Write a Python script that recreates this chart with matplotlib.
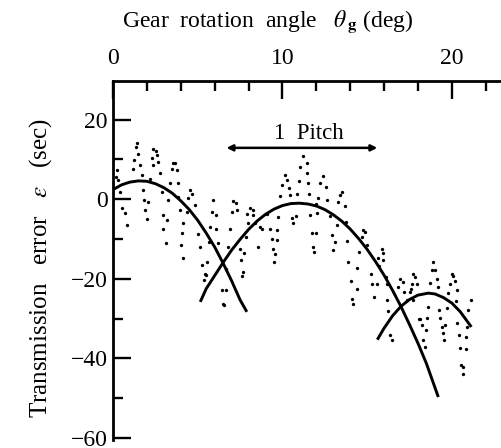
import matplotlib.pyplot as plt

plt.rcParams['font.family'] = ['Liberation Serif', 'DejaVu Serif']
plt.rcParams['mathtext.fontset'] = 'stix'

# measured transmission error (dots), gear angle in deg / error in sec
meas_x = [1.40, 1.34, 1.49, 1.24, 1.16, 1.59, 0.25, 0.18, 0.31, 0.41, 0.51, 0.71, 0.81,
          1.69, 1.75, 1.83, 2.08, 1.89, 1.99, 2.38, 2.54, 2.58, 2.28, 2.67, 2.38, 2.77,
          2.18, 2.87, 2.93, 2.97, 3.17, 3.13, 3.56, 3.65, 3.46, 3.76, 3.36, 3.85, 3.85,
          3.26, 3.95, 4.15, 4.05, 3.99, 4.11, 4.54, 4.64, 4.44, 4.84, 4.35, 5.03, 5.13,
          5.23, 5.53, 5.43, 5.92, 5.82, 6.08, 5.72, 6.08, 5.68,
          7.10, 7.25, 7.00, 7.33, 6.90, 6.80, 7.49, 7.53, 7.65, 7.59, 8.08, 8.24, 7.89,
          8.28, 7.98, 8.38, 8.67, 8.77, 7.85, 8.57, 9.26, 9.66, 9.36, 9.66, 9.46, 9.56,
          9.50, 9.75, 9.07, 11.23, 11.43, 11.03, 11.46, 10.99, 11.52, 10.15, 10.25, 9.95,
          10.40, 9.85, 10.44, 10.87, 11.58, 10.54, 10.80, 10.64, 11.62, 11.72, 11.98,
          11.82, 11.86, 12.21, 11.98,
          12.41, 12.57, 12.11, 12.61, 12.05, 13.10, 12.90, 12.96, 12.80, 13.20, 13.49,
          13.39, 13.29, 13.69, 13.75, 13.82, 13.88, 14.38, 14.02, 14.38, 14.77, 14.87,
          14.67, 14.97, 14.53, 15.20, 15.26, 15.56, 15.85, 15.91, 15.65, 15.95, 15.71,
          16.11, 16.18, 16.93, 17.09, 16.83, 17.72, 17.82, 17.62, 17.56,
          14.08, 14.17, 15.40, 16.18, 16.24, 16.34, 16.44, 17.52, 17.72, 17.36, 18.11,
          18.90, 18.80, 19.00, 17.92, 19.98, 20.04, 19.10, 20.18, 18.70, 19.88, 17.17,
          19.19, 20.28, 19.78, 21.10, 20.24, 20.96, 18.60, 19.25, 19.69, 18.07, 18.51,
          18.21, 18.47, 19.29, 19.39, 19.59, 20.31, 20.87, 19.45, 20.43, 20.83, 18.31,
          19.53, 18.41, 20.47, 20.83, 20.53, 20.67, 20.63,
          6.19, 7.73, 5.49, 5.37, 6.67, 6.41, 6.65, 6.47, 6.57]
meas_y = [14.0, 13.0, 11.3, 9.8, 7.7, 8.6, 7.3, 5.6, 4.8, 1.8, -2.1, -3.5, -6.5,
          6.0, 2.3, -0.3, -0.7, -2.8, -4.9, 12.5, 12.2, 11.1, 10.3, 9.4, 8.6, 6.5,
          5.2, 1.8, -4.0, -7.4, -5.3, -11.1, 9.1, 9.0, 7.5, 7.3, 4.1, 4.0, 0.6,
          -0.3, -2.8, -6.1, -8.6, -11.6, -14.7, 2.3, 1.4, 0.2, -1.5, -3.2, -8.8, -12.0,
          -16.6, -15.8, -18.7, -0.3, -3.2, -4.0, -7.0, -7.4, -10.8,
          -0.5, -1.0, -3.2, -2.8, -7.4, -12.0, -12.4, -15.4, -18.3, -19.4, -2.1, -2.8, -3.8,
          -4.0, -6.0, -6.1, -7.0, -7.6, -9.5, -12.0, -7.4, -7.8, -9.9, -10.3, -12.4, -13.7,
          -15.8, -4.5, -3.6, 10.8, 9.0, 8.0, 6.6, 4.6, 4.1, 6.0, 4.8, 3.5,
          2.9, 0.8, 1.0, 1.3, 1.4, -4.6, -4.3, -6.1, -4.0, -8.5, -8.5,
          -12.0, -13.3, 4.1, -1.3,
          5.8, 3.1, 0.2, -0.1, -3.5, -10.8, -9.1, -12.7, -4.3, -6.5, 1.8,
          1.0, -0.7, -1.8, -5.7, -10.5, -15.8, -17.2, -20.6, -22.5, -7.8, -8.2,
          -9.5, -11.6, -13.3, -18.7, -21.4, -21.2, -12.4, -13.5, -14.7, -15.4, -16.9,
          -19.6, -21.2, -20.0, -20.8, -22.1, -18.7, -19.6, -21.2, -22.5,
          -25.0, -26.3, -24.6, -25.4, -28.0, -34.0, -35.3, -23.4, -25.4, -25.4, -30.1,
          -15.8, -17.7, -17.7, -21.2, -18.7, -19.4, -20.0, -20.6, -21.1, -21.2, -23.4,
          -22.1, -22.7, -23.6, -25.3, -25.6, -27.8, -27.1, -27.8, -27.3, -30.1, -29.8,
          -31.7, -32.8, -29.8, -32.0, -31.7, -31.2, -32.0, -33.7, -34.0, -34.7, -35.3,
          -35.5, -37.2, -37.4, -37.6, -41.6, -42.2, -43.9,
          -11.0, -13.5, -19.1, -20.4, -17.5, -22.9, -22.9, -26.3, -26.7]

# fitted curves for each tooth
fit1_x = [0, 0.5, 1, 1.5, 2, 2.5, 3, 3.5, 4, 4.5, 5, 5.5, 6, 6.5, 7, 7.5, 7.9]
fit1_y = [2.4, 3.6, 4.3, 4.6, 4.5, 3.9, 2.9, 1.5, -0.4, -2.6, -5.3, -8.5, -12.0, -16.1,
          -20.5, -25.3, -28.3]
fit2_x = [5.15, 5.5, 6, 6.5, 7, 7.5, 8, 8.5, 9, 9.5, 10, 10.5, 11, 11.5, 12, 12.5, 13,
          13.5, 14, 14.5, 15, 15.5, 16, 16.5, 17, 17.5, 18, 18.5, 19.2]
fit2_y = [-25.8, -22.5, -19.2, -15.9, -12.8, -10.1, -7.6, -5.5, -3.8, -2.5, -1.6, -1.1,
          -1.0, -1.2, -1.7, -2.6, -3.9, -5.5, -7.5, -9.9, -12.6, -15.7, -19.1, -22.9,
          -27.0, -31.5, -36.2, -41.3, -49.7]
fit3_x = [15.6, 16, 16.5, 17, 17.5, 18, 18.6, 19, 19.5, 20, 20.5, 21.15]
fit3_y = [-35.3, -32.4, -29.3, -26.9, -25.2, -24.1, -23.6, -23.8, -24.7, -26.1, -28.3, -32.1]

fig = plt.figure(figsize=(5.01, 4.48), dpi=100)
ax = fig.add_axes([113 / 501, 1 - 440 / 448, 1 - 113 / 501, (440 - 81) / 448])

ax.plot(meas_x, meas_y, ls='none', marker='o', ms=2.4, color='black', mec='none')
for fx, fy in [(fit1_x, fit1_y), (fit2_x, fit2_y), (fit3_x, fit3_y)]:
    ax.plot(fx, fy, color='black', lw=2.1, solid_capstyle='butt')

ax.annotate('', xy=(6.7, 12.9), xytext=(15.6, 12.9),
            arrowprops=dict(arrowstyle='<|-|>', color='black', lw=1.8,
                            mutation_scale=9, shrinkA=0, shrinkB=0))
ax.text(11.55, 16.6, '1  Pitch', ha='center', va='center', fontsize=16.5)

ax.set_xlim(0, 22.9)
ax.set_ylim(-60.5, 29.7)
ax.xaxis.tick_top()
ax.set_xticks([0, 10, 20])
ax.set_xticks(range(0, 23, 2), minor=True)
ax.set_yticks([20, 0, -20, -40, -60])
ax.set_yticks([10, -10, -30, -50], minor=True)
ax.set_yticklabels(['20', '0', '\u221220', '\u221240', '\u221260'])
ax.tick_params(which='both', direction='in', width=1.7, labelsize=17)
ax.tick_params(which='major', length=13)
ax.tick_params(which='minor', length=7)
ax.tick_params(axis='x', which='both', top=True, bottom=False, pad=9)
ax.tick_params(axis='y', which='both', pad=4)

ax.spines['right'].set_visible(False)
ax.spines['bottom'].set_visible(False)
for s in ['left', 'top']:
    ax.spines[s].set_linewidth(2.0)
ax.spines['left'].set_bounds(-60.5, 29.7)

fig.text(268 / 501, 1 - 22 / 448, r'Gear  rotation  angle   $\theta_{\,\mathbf{g}}$ (deg)',
         ha='center', va='center', fontsize=17)
fig.text(41 / 501, 1 - 268 / 448,
         r'Transmission   error   $\varepsilon$   (sec)',
         ha='center', va='center', rotation=90, fontsize=18)

fig.savefig('out.png', dpi=100)
